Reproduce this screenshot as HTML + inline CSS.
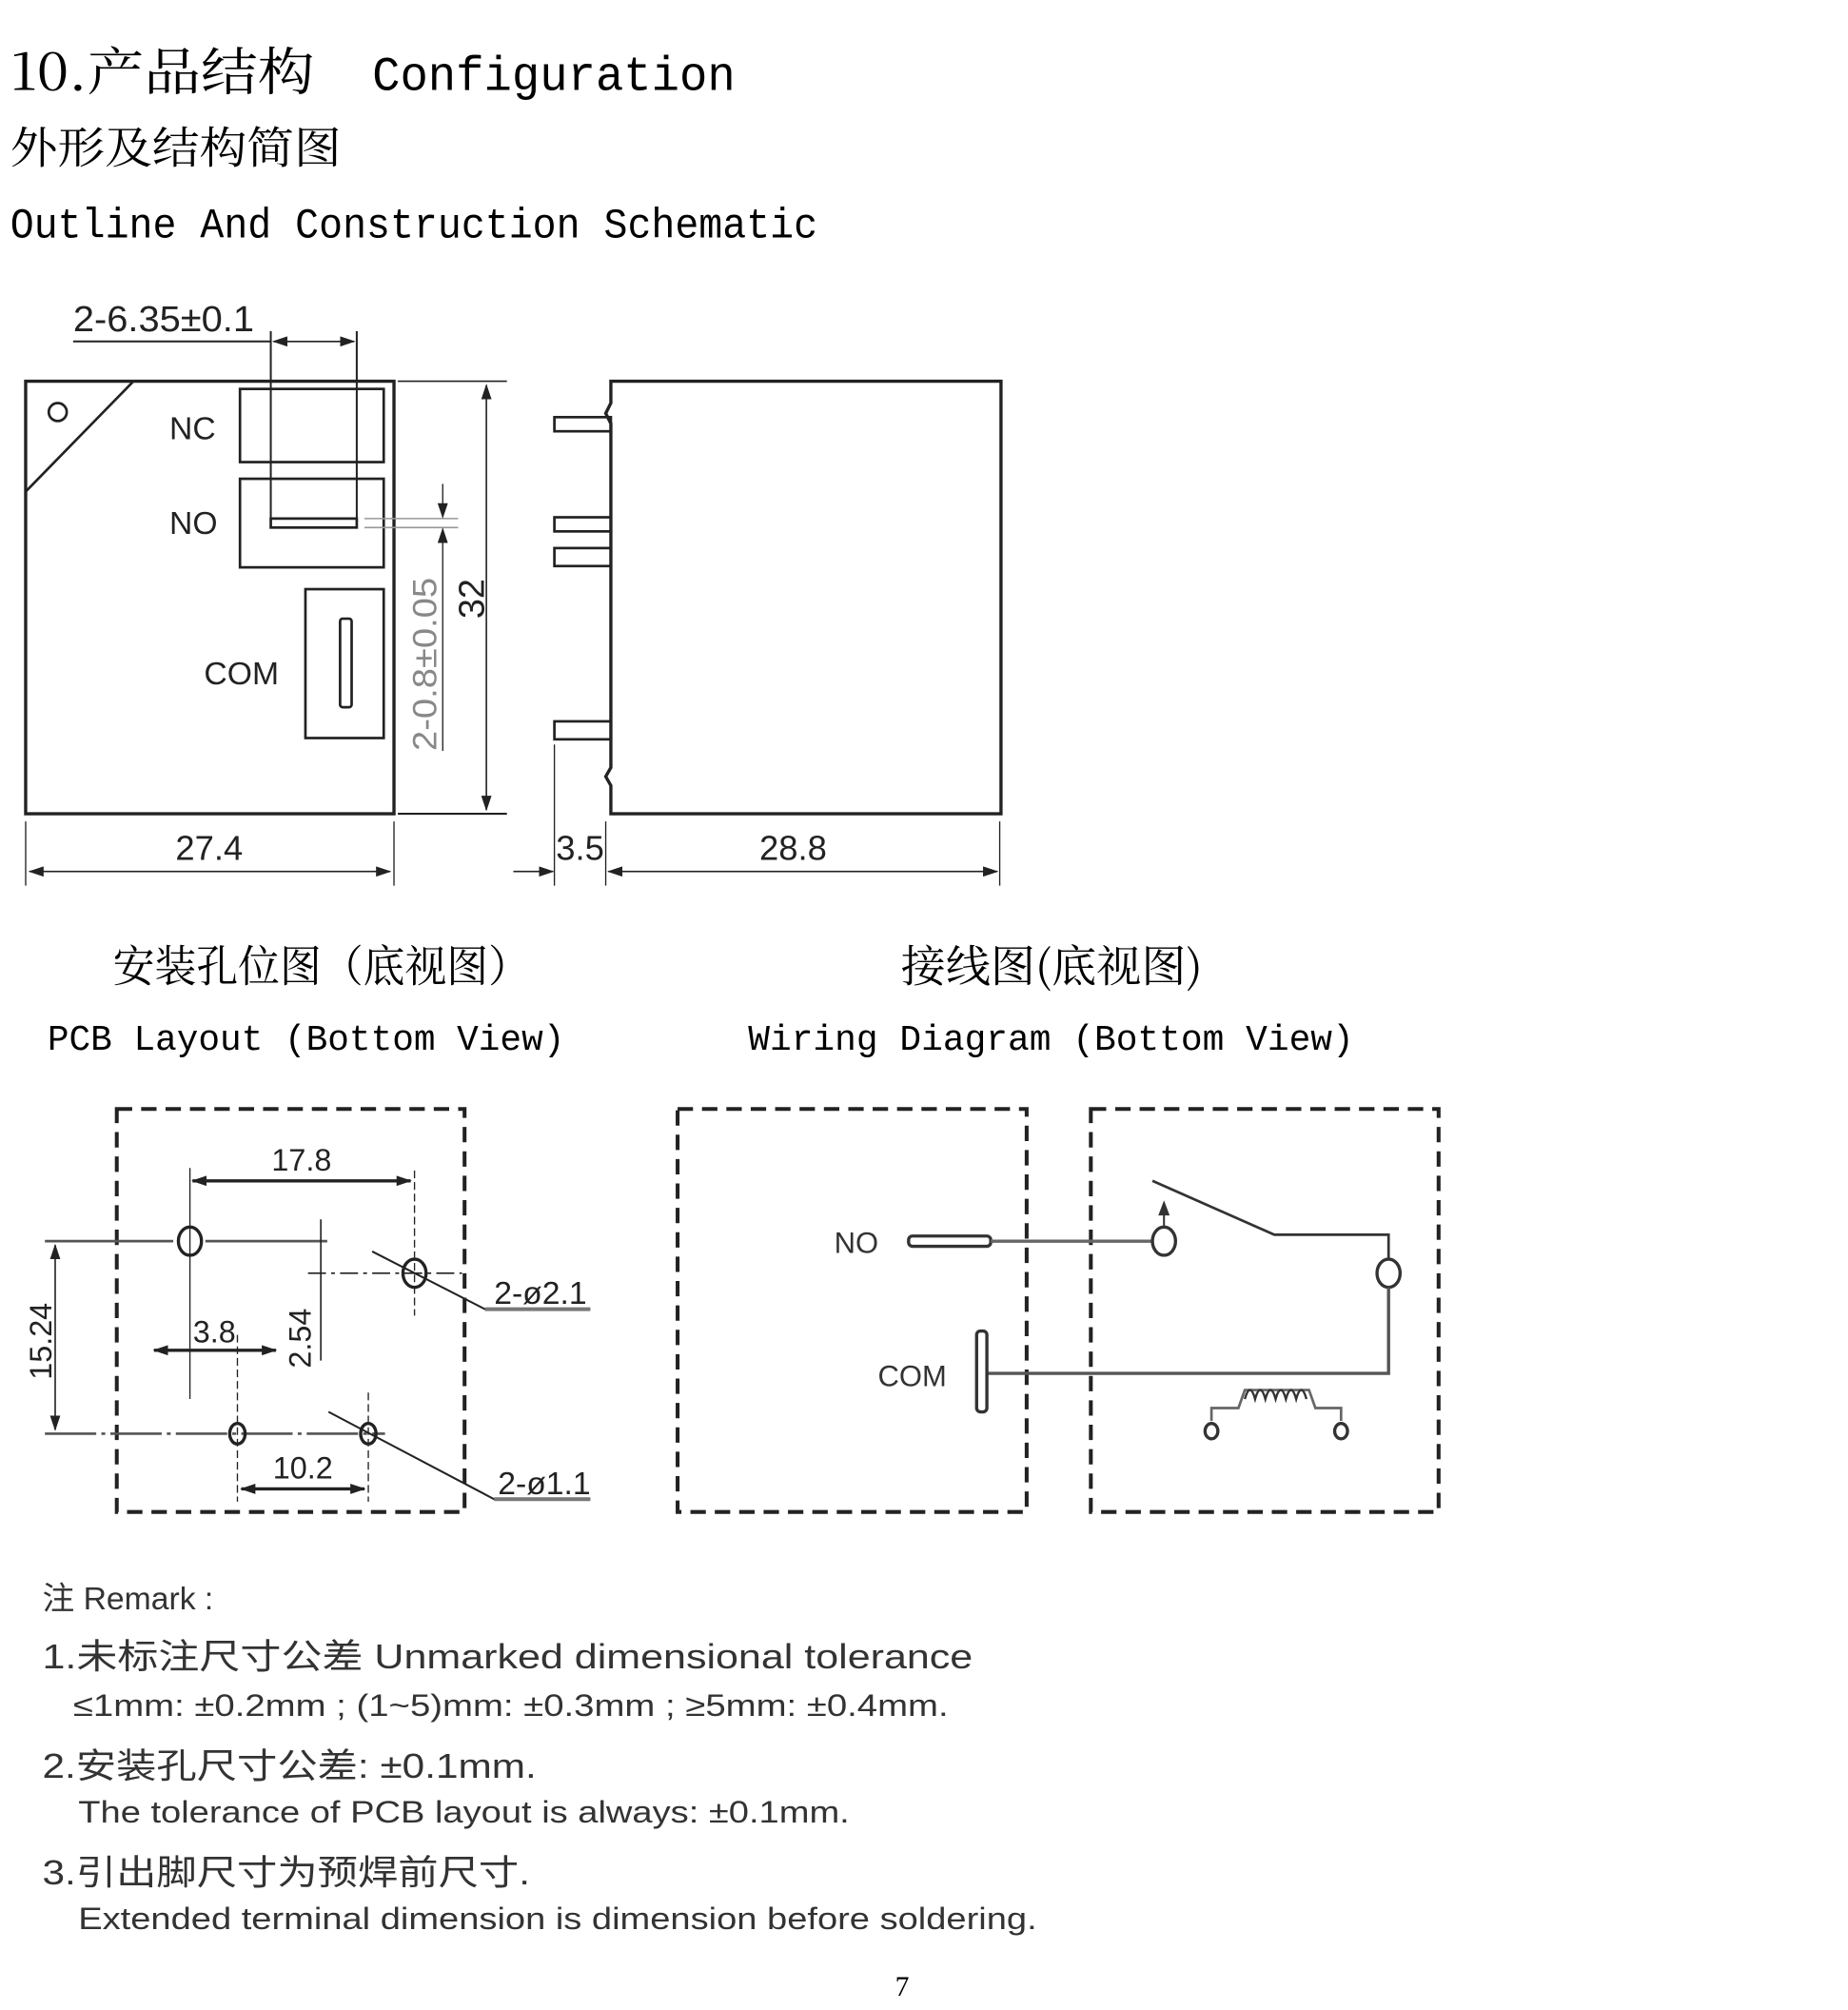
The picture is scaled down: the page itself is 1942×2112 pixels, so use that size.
<!DOCTYPE html>
<html><head><meta charset="utf-8"><style>
html,body{margin:0;padding:0;background:#fff;}
svg{display:block;}
.m{font-family:"Liberation Mono","Noto Serif CJK SC",monospace;}
.s{font-family:"Liberation Sans","Noto Sans CJK SC",sans-serif;}
.c{font-family:"Noto Serif CJK SC","Liberation Mono",serif;}
</style></head><body>
<svg width="1942" height="2112" viewBox="0 0 1440 1566" xmlns="http://www.w3.org/2000/svg">
<defs>
<marker id="a" markerWidth="12" markerHeight="8" refX="11" refY="4" orient="auto" markerUnits="userSpaceOnUse"><path d="M0,0 L12,4 L0,8 z" fill="#222"/></marker>
<marker id="b" markerWidth="12" markerHeight="8" refX="1" refY="4" orient="auto" markerUnits="userSpaceOnUse"><path d="M12,0 L0,4 L12,8 z" fill="#222"/></marker>
</defs>
<rect width="1440" height="1566" fill="#fff"/>
<!-- headings -->
<text x="8" y="70" class="c" font-size="40" textLength="237" lengthAdjust="spacingAndGlyphs">10.产品结构</text>
<text x="290" y="70" class="m" font-size="38" textLength="283" lengthAdjust="spacingAndGlyphs">Configuration</text>
<text x="8" y="127" class="c" font-size="34" textLength="258" lengthAdjust="spacingAndGlyphs">外形及结构简图</text>
<text x="8" y="185" class="m" font-size="33" textLength="629" lengthAdjust="spacingAndGlyphs">Outline And Construction Schematic</text>

<g fill="none" stroke="#222" stroke-width="2">
<!-- left body -->
<rect x="20" y="297" width="287" height="337" stroke-width="2.5"/>
<line x1="20" y1="383" x2="104" y2="297"/>
<circle cx="45" cy="321" r="7"/>
<rect x="187" y="303" width="112" height="57"/>
<rect x="187" y="373" width="112" height="69"/>
<rect x="211" y="404" width="67" height="7"/>
<rect x="238" y="459" width="61" height="116"/>
<rect x="265" y="482" width="9" height="69" rx="2"/>
<line x1="211" y1="258" x2="211" y2="404" stroke-width="1.5"/>
<line x1="278" y1="258" x2="278" y2="404" stroke-width="1.5"/>
<line x1="57" y1="266" x2="211" y2="266" stroke-width="1.5"/>
<line x1="213" y1="266" x2="276" y2="266" stroke-width="1.2" marker-start="url(#b)" marker-end="url(#a)"/>
<!-- 32 dim -->
<line x1="310" y1="297" x2="395" y2="297" stroke-width="1.2"/>
<line x1="310" y1="634" x2="395" y2="634" stroke-width="1.5"/>
<line x1="379" y1="300" x2="379" y2="631" stroke-width="1.2" marker-start="url(#b)" marker-end="url(#a)"/>
<!-- 0.8 dim -->
<line x1="284" y1="404" x2="357" y2="404" stroke="#999" stroke-width="1.2"/>
<line x1="284" y1="411" x2="357" y2="411" stroke="#999" stroke-width="1.2"/>
<line x1="345" y1="377" x2="345" y2="403" stroke-width="1" marker-end="url(#a)"/>
<line x1="345" y1="412" x2="345" y2="585" stroke-width="1" marker-start="url(#b)"/>
<!-- 27.4 -->
<line x1="20" y1="640" x2="20" y2="690" stroke-width="1"/>
<line x1="307" y1="640" x2="307" y2="690" stroke-width="1"/>
<line x1="23" y1="679" x2="304" y2="679" stroke-width="1.2" marker-start="url(#b)" marker-end="url(#a)"/>
<!-- right body -->
<path d="M476,297 L780,297 L780,634 L476,634 L476,612 L472,605 L476,598 L476,330 L472,322 L476,314 Z" stroke-width="2.5"/>
<rect x="432" y="325" width="44" height="11"/>
<rect x="432" y="403" width="44" height="11"/>
<rect x="432" y="427" width="44" height="14"/>
<rect x="432" y="562" width="44" height="14"/>
<line x1="432" y1="580" x2="432" y2="690" stroke-width="1"/>
<line x1="472" y1="640" x2="472" y2="690" stroke-width="1"/>
<line x1="779" y1="640" x2="779" y2="690" stroke-width="1"/>
<line x1="400" y1="679" x2="431" y2="679" stroke-width="1.2" marker-end="url(#a)"/>
<line x1="474" y1="679" x2="777" y2="679" stroke-width="1.2" marker-start="url(#b)" marker-end="url(#a)"/>
</g>
<g class="s" fill="#222">
<text x="57" y="258" font-size="28" textLength="141" lengthAdjust="spacingAndGlyphs">2-6.35±0.1</text>
<text x="132" y="342" font-size="25">NC</text>
<text x="132" y="416" font-size="25">NO</text>
<text x="159" y="533" font-size="25">COM</text>
<text x="163" y="670" font-size="27" text-anchor="middle">27.4</text>
<text x="452" y="670" font-size="27" text-anchor="middle">3.5</text>
<text x="618" y="670" font-size="27" text-anchor="middle">28.8</text>
<text transform="translate(377,482) rotate(-90)" font-size="28">32</text>
<text transform="translate(340,585) rotate(-90)" font-size="26" fill="#888" textLength="135" lengthAdjust="spacingAndGlyphs">2-0.8±0.05</text>
</g>

<!-- section titles -->
<text x="88" y="765" class="c" font-size="34" textLength="325" lengthAdjust="spacingAndGlyphs">安装孔位图（底视图）</text>
<text x="37" y="818" class="m" font-size="28" textLength="403" lengthAdjust="spacingAndGlyphs">PCB Layout (Bottom View)</text>
<text x="702" y="765" class="c" font-size="34" textLength="235" lengthAdjust="spacingAndGlyphs">接线图(底视图)</text>
<text x="583" y="818" class="m" font-size="28" textLength="472" lengthAdjust="spacingAndGlyphs">Wiring Diagram (Bottom View)</text>

<!-- dashed boxes -->
<g fill="none" stroke="#222" stroke-width="3" stroke-dasharray="12,7">
<rect x="91" y="864" width="271" height="314"/>
<rect x="528" y="864" width="272" height="314"/>
<rect x="850" y="864" width="271" height="314"/>
</g>

<!-- PCB layout -->
<g fill="none" stroke="#222" stroke-width="1.5">
<line x1="35" y1="967" x2="135" y2="967" stroke="#555" stroke-width="2"/>
<line x1="160" y1="967" x2="255" y2="967" stroke="#555" stroke-width="2"/>
<line x1="240" y1="992" x2="360" y2="992" stroke-width="1.2" stroke-dasharray="14,4,3,4"/>
<line x1="35" y1="1117" x2="300" y2="1117" stroke="#555" stroke-width="2" stroke-dasharray="40,4,3,4"/>
<ellipse cx="148" cy="967" rx="9" ry="11" stroke-width="2.5"/>
<ellipse cx="323" cy="992" rx="9" ry="11" stroke-width="2.5"/>
<ellipse cx="185" cy="1117" rx="6" ry="8" stroke-width="2.5"/>
<ellipse cx="287" cy="1117" rx="6" ry="8" stroke-width="2.5"/>
<line x1="148" y1="910" x2="148" y2="1090" stroke-width="1"/>
<line x1="323" y1="912" x2="323" y2="1025" stroke-width="1" stroke-dasharray="6,3"/>
<line x1="150" y1="920" x2="320" y2="920" stroke-width="2.5" marker-start="url(#b)" marker-end="url(#a)"/>
<line x1="250" y1="950" x2="250" y2="1060" stroke-width="1.2"/>
<line x1="43" y1="970" x2="43" y2="1114" stroke-width="1.2" marker-start="url(#b)" marker-end="url(#a)"/>
<line x1="120" y1="1052" x2="215" y2="1052" stroke-width="2.5" marker-start="url(#b)" marker-end="url(#a)"/>
<line x1="185" y1="1040" x2="185" y2="1170" stroke-width="1" stroke-dasharray="6,3"/>
<line x1="287" y1="1085" x2="287" y2="1170" stroke-width="1" stroke-dasharray="6,3"/>
<line x1="188" y1="1160" x2="284" y2="1160" stroke-width="2.5" marker-start="url(#b)" marker-end="url(#a)"/>
<polyline points="290,975 378,1020 460,1020" stroke-width="1.5"/>
<polyline points="256,1100 385,1168 460,1168" stroke-width="1.5"/>
<line x1="378" y1="1020" x2="460" y2="1020" stroke="#777" stroke-width="3"/>
<line x1="385" y1="1168" x2="460" y2="1168" stroke="#777" stroke-width="3"/>
</g>
<g class="s" fill="#222">
<text x="235" y="912" font-size="24" text-anchor="middle">17.8</text>
<text x="167" y="1046" font-size="24" text-anchor="middle">3.8</text>
<text x="236" y="1152" font-size="24" text-anchor="middle">10.2</text>
<text transform="translate(40,1075) rotate(-90)" font-size="24">15.24</text>
<text transform="translate(242,1066) rotate(-90)" font-size="24">2.54</text>
<text x="385" y="1016" font-size="25">2-ø2.1</text>
<text x="388" y="1164" font-size="25">2-ø1.1</text>
</g>

<!-- Wiring -->
<g fill="none" stroke="#333" stroke-width="2">
<rect x="708" y="963" width="64" height="8" rx="3" stroke-width="2.5"/>
<line x1="772" y1="967" x2="897" y2="967" stroke="#666" stroke-width="2.5"/>
<ellipse cx="907" cy="967" rx="9" ry="11" stroke-width="2.5"/>
<line x1="907" y1="955" x2="907" y2="940" stroke-width="1.5"/>
<path d="M904,946 L907,938 L910,946 z" fill="#333"/>
<polyline points="898,920 993,962 1082,962 1082,981" stroke-width="2"/>
<ellipse cx="1082" cy="992" rx="9" ry="11" stroke-width="2.5"/>
<polyline points="1082,1003 1082,1070 770,1070" stroke="#555" stroke-width="2.5"/>
<rect x="761" y="1037" width="8" height="63" rx="3" stroke-width="2.5"/>
<polyline points="944,1107 944,1097 965,1097 970,1083 1020,1083 1025,1097 1045,1097 1045,1107" stroke="#666" stroke-width="2"/>
<path d="M970,1090 q4,-14 8,0 q4,-14 8,0 q4,-14 8,0 q4,-14 8,0 q4,-14 8,0 q4,-14 8,0" stroke-width="1.8"/>
<ellipse cx="944" cy="1115" rx="5" ry="6" stroke-width="2.5"/>
<ellipse cx="1045" cy="1115" rx="5" ry="6" stroke-width="2.5"/>
</g>
<g class="s" fill="#333">
<text x="650" y="976" font-size="23">NO</text>
<text x="684" y="1080" font-size="23">COM</text>
</g>

<!-- remarks -->
<g class="s" fill="#333">
<text x="33" y="1254" font-size="25">注 Remark :</text>
<text x="33" y="1300" font-size="27" textLength="725" lengthAdjust="spacingAndGlyphs">1.未标注尺寸公差  Unmarked dimensional tolerance</text>
<text x="57" y="1337" font-size="24" textLength="682" lengthAdjust="spacingAndGlyphs">≤1mm: ±0.2mm ;  (1~5)mm: ±0.3mm ; ≥5mm: ±0.4mm.</text>
<text x="33" y="1385" font-size="27" textLength="385" lengthAdjust="spacingAndGlyphs">2.安装孔尺寸公差: ±0.1mm.</text>
<text x="61" y="1420" font-size="24" textLength="601" lengthAdjust="spacingAndGlyphs">The tolerance  of PCB layout is always: ±0.1mm.</text>
<text x="33" y="1468" font-size="27" textLength="380" lengthAdjust="spacingAndGlyphs">3.引出脚尺寸为预焊前尺寸.</text>
<text x="61" y="1503" font-size="24" textLength="747" lengthAdjust="spacingAndGlyphs">Extended terminal dimension is dimension before soldering.</text>
</g>
<text x="703" y="1555" font-family="Liberation Serif, serif" font-size="22" text-anchor="middle">7</text>
</svg>
</body></html>
